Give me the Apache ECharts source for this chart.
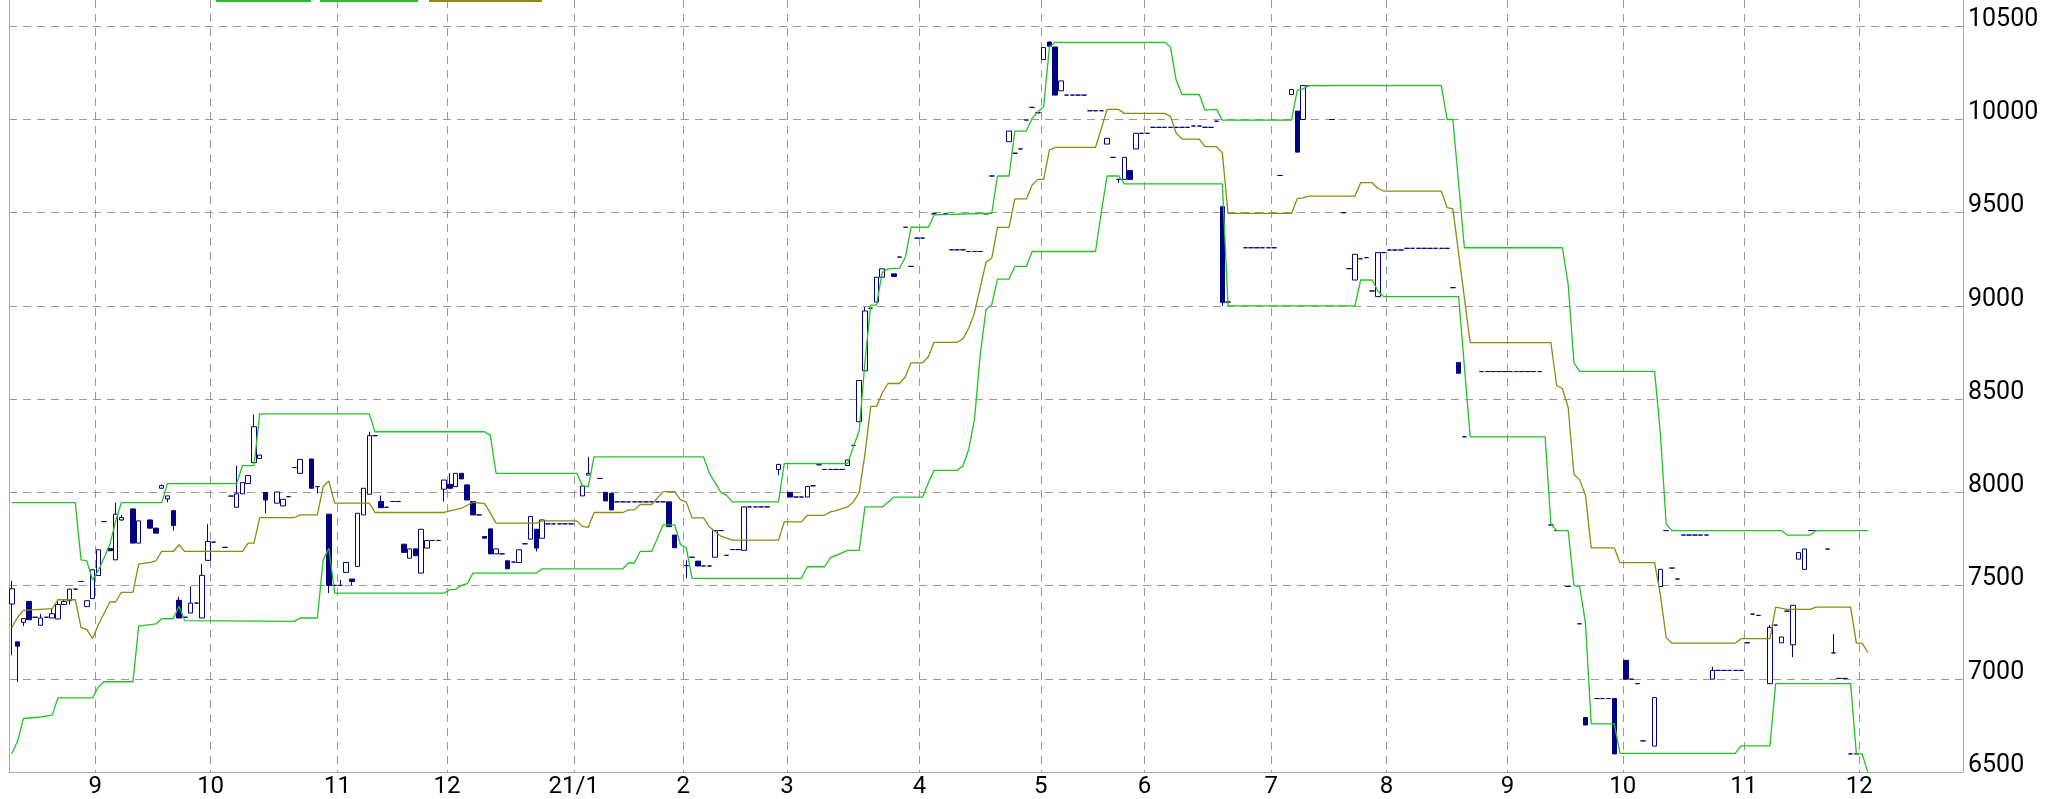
<!DOCTYPE html>
<html>
<head>
<meta charset="utf-8">
<script src="https://cdn.jsdelivr.net/npm/echarts@6/dist/echarts.min.js"></script>
<style>
html, body { margin: 0; padding: 0; background: #fff; }
#main { width: 2049px; height: 799px; }
</style>
</head>
<body>
<div id="main"></div>
<script>
// 営業日カレンダー (2020/08/11 から)
const dayCount = 339;
const holidays = ['2020-09-21', '2020-09-22', '2020-11-03', '2020-11-23', '2020-12-31',
  '2021-01-01', '2021-01-11', '2021-02-11', '2021-02-23', '2021-04-29', '2021-05-03',
  '2021-05-04', '2021-05-05', '2021-07-22', '2021-07-23', '2021-08-09', '2021-09-20',
  '2021-09-23', '2021-11-03', '2021-11-23'];

const categories = [];
const d = new Date(Date.UTC(2020, 7, 11));
while (categories.length < dayCount) {
  const wd = d.getUTCDay();
  const s = d.toISOString().slice(0, 10);
  if (wd !== 0 && wd !== 6 && holidays.indexOf(s) < 0) categories.push(s);
  d.setUTCDate(d.getUTCDate() + 1);
}

// ローソク足 [日, 始値, 終値, 安値, 高値]
const candles = [
  [0, 7401, 7483, 7126, 7526], [1, 7198, 7175, 6984, 7198], [2, 7303, 7323, 7282, 7323],
  [3, 7415, 7317, 7317, 7415], [5, 7287, 7326, 7287, 7348], [7, 7326, 7349, 7326, 7376],
  [8, 7321, 7398, 7321, 7424], [9, 7398, 7415, 7398, 7424], [10, 7419, 7481, 7398, 7481],
  [13, 7387, 7419, 7387, 7419], [14, 7430, 7585, 7430, 7585], [15, 7554, 7692, 7554, 7692],
  [17, 7699, 7687, 7687, 7699], [18, 7638, 7883, 7638, 7945], [19, 7852, 7865, 7847, 7879],
  [21, 7911, 7728, 7728, 7911], [22, 7728, 7847, 7728, 7847], [24, 7852, 7808, 7808, 7852],
  [25, 7808, 7781, 7781, 7808], [26, 8022, 8036, 8022, 8043], [27, 7965, 7981, 7947, 7981],
  [28, 7902, 7822, 7795, 7902], [29, 7421, 7326, 7326, 7440], [31, 7353, 7406, 7353, 7496],
  [33, 7326, 7555, 7326, 7615], [34, 7635, 7736, 7635, 7829], [39, 7920, 7992, 7920, 8143],
  [40, 7992, 8052, 7992, 8052], [41, 8047, 8090, 8047, 8090], [42, 8159, 8352, 8159, 8418],
  [43, 8182, 8200, 8182, 8200], [44, 7999, 7959, 7888, 7999], [46, 7942, 8002, 7942, 8002],
  [47, 7927, 7963, 7927, 7963], [50, 8102, 8177, 8102, 8177], [52, 8179, 8022, 8022, 8179],
  [53, 8031, 8031, 7995, 8031], [55, 7883, 7501, 7460, 7883], [57, 7501, 7501, 7501, 7530],
  [58, 7571, 7624, 7571, 7624], [59, 7535, 7522, 7501, 7535], [60, 7603, 7888, 7603, 7888],
  [61, 7879, 8022, 7879, 8022], [62, 7990, 8304, 7990, 8325], [64, 7951, 7918, 7918, 7983],
  [68, 7722, 7678, 7678, 7722], [69, 7647, 7697, 7647, 7697], [70, 7697, 7660, 7660, 7697],
  [71, 7567, 7802, 7567, 7802], [72, 7701, 7742, 7701, 7742], [75, 8017, 8066, 7951, 8066],
  [76, 8043, 8022, 8022, 8102], [77, 8031, 8102, 8031, 8102], [78, 8102, 8072, 8072, 8102],
  [79, 8040, 7959, 7959, 8040], [80, 7951, 7879, 7879, 7951], [82, 7763, 7754, 7754, 7763],
  [83, 7804, 7670, 7670, 7804], [84, 7670, 7697, 7670, 7697], [86, 7633, 7590, 7590, 7633],
  [88, 7624, 7692, 7624, 7692], [90, 7749, 7870, 7749, 7870], [91, 7802, 7701, 7683, 7802],
  [92, 7754, 7852, 7754, 7852], [99, 7981, 8034, 7981, 8034], [100, 8093, 8102, 8093, 8191],
  [103, 8000, 7954, 7954, 8000], [104, 7995, 7906, 7906, 7995], [114, 7949, 7816, 7816, 7949],
  [115, 7771, 7703, 7703, 7771], [117, 7607, 7607, 7539, 7636], [119, 7631, 7605, 7605, 7631],
  [122, 7652, 7795, 7652, 7795], [127, 7689, 7922, 7689, 7922], [133, 8123, 8150, 8092, 8150],
  [135, 8000, 7975, 7975, 8000], [138, 7975, 8031, 7975, 8035], [145, 8144, 8174, 8144, 8174],
  [147, 8379, 8600, 8379, 8600], [148, 8652, 8973, 8652, 8994], [150, 9021, 9154, 9021, 9154],
  [151, 9154, 9199, 9154, 9199], [153, 9172, 9158, 9158, 9172], [173, 9881, 9938, 9881, 9938],
  [179, 10322, 10386, 10322, 10386], [180, 10416, 10393, 10393, 10416],
  [181, 10389, 10131, 10131, 10389], [182, 10154, 10207, 10154, 10207],
  [190, 9868, 9899, 9868, 9899], [192, 9679, 9679, 9660, 9679], [193, 9679, 9797, 9679, 9797],
  [194, 9726, 9679, 9679, 9726], [195, 9842, 9926, 9842, 9926], [210, 9532, 9018, 9000, 9532],
  [222, 10134, 10161, 10134, 10161], [223, 10045, 9825, 9825, 10045],
  [224, 10000, 10182, 10000, 10182], [233, 9139, 9277, 9139, 9277], [237, 9050, 9286, 9050, 9286],
  [251, 8696, 8639, 8639, 8696], [273, 6792, 6752, 6752, 6792], [278, 6894, 6597, 6597, 6894],
  [280, 7099, 6998, 6998, 7099], [285, 6639, 6899, 6639, 6899], [286, 7495, 7587, 7495, 7587],
  [295, 6998, 7045, 6998, 7064], [305, 6974, 7276, 6974, 7288], [307, 7193, 7224, 7193, 7224],
  [309, 7182, 7394, 7116, 7394], [310, 7642, 7677, 7642, 7677], [311, 7587, 7696, 7587, 7696],
  [316, 7139, 7139, 7139, 7240]
];

// 値動きのない日 [日, 価格]
const flats = [
  [4, 7330], [6, 7330], [11, 7481], [12, 7522], [16, 7843], [30, 7330], [32, 7406],
  [35, 7733], [37, 7705], [38, 7980], [48, 7977], [49, 8133], [56, 7501], [63, 8304],
  [65, 7920], [66, 7951], [67, 7951], [73, 7742], [74, 7742], [81, 7879], [85, 7670],
  [87, 7626], [89, 7724], [93, 7831], [94, 7831], [95, 7831], [96, 7831], [97, 7831],
  [102, 8075], [105, 7949], [106, 7949], [107, 7949], [108, 7949], [109, 7949], [110, 7949],
  [111, 7949], [112, 7949], [113, 7949], [118, 7652], [120, 7605], [121, 7605], [123, 7795],
  [124, 7662], [125, 7693], [126, 7693], [128, 7922], [129, 7922], [130, 7922], [131, 7922],
  [136, 7975], [137, 7975], [139, 8035], [140, 8148], [141, 8123], [142, 8123], [143, 8123],
  [144, 8123], [146, 8252], [149, 8988], [154, 9262], [155, 9422], [156, 9212], [157, 9364],
  [158, 9364], [160, 9494], [162, 9494], [163, 9301], [164, 9301], [165, 9301], [166, 9292],
  [167, 9292], [168, 9292], [169, 9494], [170, 9697], [174, 9819], [175, 9842], [176, 9997],
  [177, 10065], [178, 10036], [183, 10131], [184, 10131], [185, 10131], [186, 10131],
  [187, 10047], [188, 10047], [189, 10047], [191, 9797], [196, 9926], [197, 9926],
  [198, 9958], [199, 9958], [200, 9958], [201, 9958], [202, 9958], [203, 9958], [204, 9958],
  [205, 9965], [206, 9965], [207, 9958], [208, 9958], [209, 9991], [211, 9021], [214, 9312],
  [215, 9312], [216, 9312], [217, 9312], [218, 9312], [219, 9312], [220, 9700], [225, 10182],
  [226, 10182], [227, 10182], [228, 10182], [229, 10000], [231, 9500], [232, 9200],
  [234, 9253], [235, 9259], [236, 9080], [238, 9286], [239, 9300], [240, 9300], [241, 9300],
  [242, 9309], [243, 9309], [244, 9309], [245, 9309], [246, 9309], [247, 9309], [248, 9309],
  [249, 9309], [250, 9098], [252, 8298], [255, 8648], [256, 8648], [257, 8648], [258, 8648],
  [259, 8648], [260, 8648], [261, 8648], [262, 8648], [263, 8648], [264, 8648], [265, 8648],
  [267, 7825], [268, 7795], [270, 7495], [272, 7295], [275, 6894], [276, 6894], [277, 6894],
  [281, 6998], [282, 6974], [283, 6667], [287, 7795], [288, 7594], [289, 7535], [290, 7771],
  [291, 7771], [292, 7771], [293, 7771], [294, 7771], [296, 7045], [297, 7045], [298, 7045],
  [299, 7045], [300, 7045], [301, 7193], [302, 7347], [303, 7340], [306, 7288], [308, 7363],
  [312, 7795], [313, 7795], [315, 7696], [317, 7002], [318, 7002], [319, 6597], [320, 6597],
  [322, 6498]
];

// チャネル上限 [日, 値] (折れ点)
const upperLine = [
  [0, 7945], [11, 7945], [12, 7638], [13, 7633], [14, 7530], [15, 7580], [17, 7720],
  [18, 7845], [19, 7945], [26, 7945], [27, 8047], [39, 8047], [40, 8143], [42, 8143],
  [43, 8421], [62, 8421], [63, 8325], [82, 8325], [83, 8307], [84, 8102], [98, 8102],
  [99, 8036], [100, 8030], [101, 8190], [120, 8190], [121, 8103], [123, 8000], [124, 7984],
  [125, 7949], [133, 7949], [134, 8154], [145, 8154], [146, 8246], [147, 8330], [148, 8700],
  [149, 9004], [150, 9004], [151, 9180], [152, 9199], [154, 9203], [155, 9260], [156, 9422],
  [159, 9422], [160, 9488], [170, 9497], [171, 9697], [173, 9697], [174, 9938], [176, 9938],
  [177, 10006], [178, 10040], [179, 10068], [180, 10389], [181, 10414], [200, 10414],
  [201, 10389], [202, 10210], [203, 10134], [206, 10134], [207, 10050], [209, 10054],
  [210, 9997], [222, 9997], [223, 10157], [224, 10164], [225, 10182], [248, 10182],
  [249, 10000], [250, 10000], [252, 9312], [269, 9312], [270, 9116], [271, 8696], [272, 8649],
  [285, 8649], [286, 8314], [287, 7830], [288, 7795], [307, 7795], [308, 7771], [312, 7771],
  [313, 7795], [322, 7795]
];

// チャネル下限
const lowerLine = [
  [0, 6598], [1, 6666], [2, 6787], [5, 6795], [7, 6805], [8, 6898], [14, 6898], [15, 6956],
  [16, 6984], [21, 6984], [22, 7282], [25, 7294], [26, 7322], [28, 7322], [29, 7389],
  [30, 7312], [49, 7308], [50, 7326], [53, 7326], [54, 7638], [55, 7700], [56, 7460],
  [75, 7460], [76, 7478], [77, 7480], [78, 7501], [79, 7510], [80, 7567], [91, 7567],
  [92, 7590], [106, 7590], [107, 7621], [108, 7621], [109, 7683], [111, 7683], [113, 7826],
  [115, 7826], [116, 7720], [117, 7703], [118, 7539], [137, 7539], [138, 7601], [141, 7601],
  [142, 7650], [143, 7662], [145, 7689], [147, 7689], [148, 7922], [151, 7922], [153, 7974],
  [158, 7974], [159, 8051], [160, 8118], [164, 8118], [165, 8142], [166, 8230], [167, 8390],
  [168, 8740], [169, 8980], [170, 9007], [171, 9144], [173, 9144], [174, 9212], [176, 9212],
  [177, 9292], [188, 9292], [189, 9500], [190, 9697], [192, 9697], [193, 9655], [210, 9655],
  [211, 9000], [233, 9000], [234, 9139], [236, 9139], [237, 9080], [238, 9050], [251, 9050],
  [253, 8298], [266, 8298], [267, 7830], [268, 7795], [270, 7795], [271, 7500], [272, 7495],
  [273, 7300], [274, 6758], [278, 6758], [279, 6600], [299, 6600], [300, 6640], [305, 6640],
  [306, 6974], [319, 6974], [320, 6597], [321, 6597], [322, 6498]
];

// 中心線
const midLine = [
  [0, 7276], [1, 7330], [2, 7367], [7, 7376], [8, 7424], [11, 7424], [12, 7276], [13, 7264],
  [14, 7216], [15, 7290], [17, 7412], [18, 7412], [19, 7464], [21, 7464], [22, 7615],
  [24, 7625], [25, 7633], [26, 7683], [28, 7683], [29, 7719], [30, 7683], [40, 7683],
  [41, 7728], [42, 7728], [43, 7865], [49, 7865], [50, 7879], [53, 7879], [54, 8031],
  [55, 8061], [56, 7942], [62, 7942], [63, 7892], [75, 7892], [76, 7901], [78, 7915],
  [80, 7947], [82, 7940], [83, 7890], [84, 7835], [91, 7835], [92, 7847], [98, 7847],
  [99, 7817], [100, 7812], [101, 7892], [106, 7892], [107, 7906], [108, 7906], [109, 7935],
  [111, 7935], [113, 8004], [115, 8004], [116, 7960], [117, 7949], [118, 7863], [120, 7863],
  [121, 7816], [123, 7765], [124, 7755], [125, 7744], [133, 7744], [134, 7842], [137, 7842],
  [138, 7877], [141, 7877], [142, 7895], [143, 7902], [145, 7922], [146, 7949], [147, 8000],
  [148, 8205], [149, 8461], [150, 8461], [151, 8533], [152, 8584], [154, 8584], [155, 8620],
  [156, 8695], [158, 8695], [159, 8727], [160, 8805], [164, 8805], [165, 8823], [166, 8880],
  [167, 8962], [168, 9100], [169, 9233], [170, 9257], [171, 9421], [173, 9421], [174, 9574],
  [176, 9574], [177, 9649], [178, 9679], [179, 9679], [180, 9836], [181, 9851], [188, 9851],
  [189, 9950], [190, 10054], [192, 10054], [193, 10033], [200, 10033], [201, 10018],
  [202, 9926], [203, 9895], [206, 9895], [207, 9854], [209, 9854], [210, 9821], [211, 9496],
  [222, 9496], [223, 9575], [224, 9580], [225, 9589], [233, 9589], [234, 9661], [236, 9661],
  [237, 9630], [238, 9616], [248, 9616], [249, 9527], [250, 9521], [253, 8803], [267, 8803],
  [268, 8573], [269, 8557], [270, 8455], [271, 8097], [272, 8067], [273, 7985], [274, 7702],
  [278, 7702], [279, 7623], [285, 7623], [286, 7450], [287, 7222], [288, 7191], [299, 7191],
  [300, 7215], [305, 7215], [306, 7384], [308, 7372], [312, 7372], [313, 7384], [319, 7384],
  [320, 7191], [321, 7191], [322, 7141]
];

// 縦軸: 6500 から 500 刻み、上端は画像の上で切れている
const yMin = 6500;
const yMax = 10641;
const yStep = 500;

const ohlc = candles.concat(flats.map(f => [f[0], f[1], f[1], f[1], f[1]]))
  .sort((a, b) => a[0] - b[0]);

function monthOf(i) { return +categories[i].slice(5, 7); }
function isMonthStart(i) { return i > 0 && monthOf(i) !== monthOf(i - 1); }

const labelFont = "Roboto, 'Noto Sans', sans-serif";
const gridDash = { color: '#999', width: 1, type: [8, 6] };

// 凡例は上端で切れているので線だけ見える
function legendItem(name, left, width) {
  return {
    top: 0,
    left: left,
    padding: 0,
    itemWidth: width,
    itemHeight: 2,
    icon: 'rect',
    formatter: () => '',
    data: [name]
  };
}

const myChart = echarts.init(document.getElementById('main'));
const option = {
  animation: false,
  backgroundColor: '#fff',
  legend: [
    legendItem('上限', 216, 95),
    legendItem('下限', 320, 98),
    legendItem('中心線', 429, 113)
  ],
  grid: {
    left: 9,
    right: 86,
    top: 0,
    bottom: 25
  },
  xAxis: {
    type: 'category',
    data: categories,
    axisLine: { show: true, lineStyle: { color: '#aaa' } },
    axisTick: { show: false },
    axisLabel: {
      interval: (i) => isMonthStart(i),
      formatter: (v) => {
        const m = +v.slice(5, 7);
        return m === 1 ? v.slice(2, 4) + '/1' : String(m);
      },
      color: '#000',
      fontSize: 24,
      fontFamily: labelFont,
      margin: 3,
      padding: [0, 6, 0, 0]
    },
    splitLine: { show: true, interval: (i) => isMonthStart(i), lineStyle: gridDash }
  },
  yAxis: [
    {
      type: 'value',
      position: 'right',
      min: yMin,
      max: yMax,
      interval: yStep,
      axisLine: { show: true, lineStyle: { color: '#aaa' } },
      axisTick: { show: false },
      axisLabel: {
        color: '#000',
        fontSize: 25,
        fontFamily: labelFont,
        verticalAlign: 'bottom',
        margin: 5,
        lineHeight: 13,
        showMaxLabel: false,
        formatter: (v) => String(v)
      },
      splitLine: { show: true, showMaxLine: false, lineStyle: gridDash }
    },
    {
      type: 'value',
      position: 'left',
      min: yMin,
      max: yMax,
      interval: yStep,
      axisLine: { show: true, lineStyle: { color: '#aaa' } },
      axisTick: { show: false },
      axisLabel: { show: false },
      splitLine: { show: false }
    }
  ],
  series: [
    {
      name: '株価',
      type: 'candlestick',
      data: ohlc,
      dimensions: ['idx', 'open', 'close', 'lowest', 'highest'],
      encode: { x: 'idx', y: ['open', 'close', 'lowest', 'highest'] },
      barWidth: 5,
      itemStyle: {
        color: '#ffffff',
        color0: '#000080',
        borderColor: '#000080',
        borderColor0: '#000080',
        borderWidth: 1
      }
    },
    {
      name: '上限',
      type: 'line',
      data: upperLine,
      symbol: 'none',
      itemStyle: { color: '#22c322' },
      lineStyle: { color: '#22c322', width: 1.3 }
    },
    {
      name: '下限',
      type: 'line',
      data: lowerLine,
      symbol: 'none',
      itemStyle: { color: '#22c322' },
      lineStyle: { color: '#22c322', width: 1.3 }
    },
    {
      name: '中心線',
      type: 'line',
      data: midLine,
      symbol: 'none',
      itemStyle: { color: '#8c8c10' },
      lineStyle: { color: '#8c8c10', width: 1.3 }
    }
  ]
};
myChart.setOption(option);
</script>
</body>
</html>
